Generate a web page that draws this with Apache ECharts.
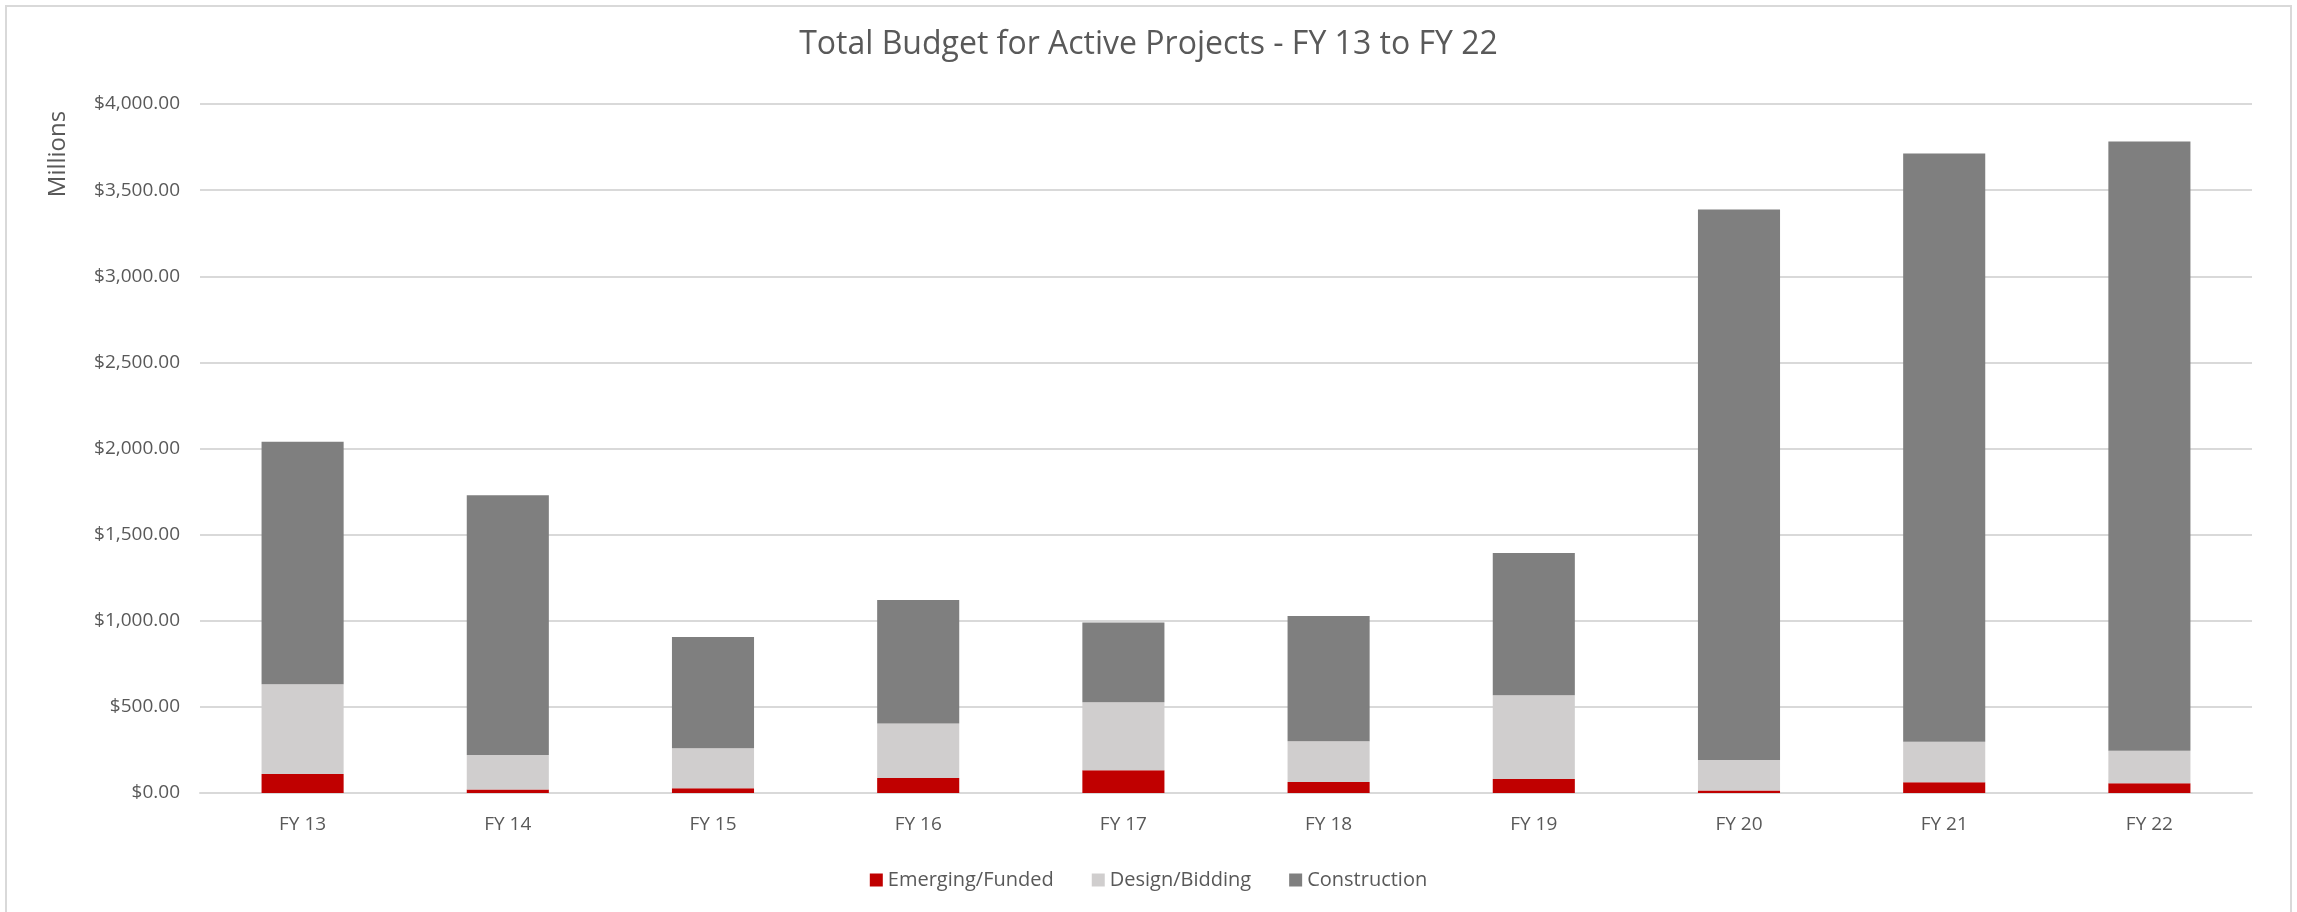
<!DOCTYPE html>
<html>
<head>
<meta charset="utf-8">
<script src="https://cdn.jsdelivr.net/npm/echarts@6/dist/echarts.min.js"></script>
<style>
    html, body { margin: 0; padding: 0; background: #fff; }
    #main { width: 2297px; height: 912px; }
</style>
</head>
<body>
<div id="main"></div>
<script>
// 类目
var years = ['FY 13', 'FY 14', 'FY 15', 'FY 16', 'FY 17', 'FY 18', 'FY 19', 'FY 20', 'FY 21', 'FY 22'];
// 各阶段预算（百万）
var emergingFunded = [110, 21, 27, 87, 132, 64, 81, 15, 62, 56];
var designBidding = [522, 200, 233, 316, 395, 236, 487, 177, 236, 190];
var construction = [1407, 1508, 645, 717, 463, 727, 825, 3196, 3415, 3537];

(function() {
    var myChart = echarts.init(document.getElementById('main'));
    var font = 'Open Sans';
    var txt = '#595959';

    function money(v) {
        return '$' + v.toLocaleString('en-US', { minimumFractionDigits: 2, maximumFractionDigits: 2 });
    }

    var option = {
        animation: false,
        color: ['#c00000', '#d0cece', '#7f7f7f'],
        title: {
            text: 'Total Budget for Active Projects - FY 13 to FY 22',
            left: 'center',
            top: 24,
            textStyle: {
                fontFamily: font,
                fontSize: 32,
                fontWeight: 'normal',
                color: txt
            }
        },
        // 外框 + 纵轴名称
        graphic: [{
            type: 'rect',
            shape: { x: 6, y: 6, width: 2285, height: 912 },
            style: { fill: 'none', stroke: '#d9d9d9', lineWidth: 2 },
            silent: true
        }, {
            type: 'text',
            x: 58,
            y: 154,
            rotation: Math.PI / 2,
            style: {
                text: 'Millions',
                fontFamily: font,
                fontSize: 24,
                fill: txt,
                textAlign: 'center',
                textVerticalAlign: 'middle'
            }
        }],
        legend: {
            bottom: 17,
            left: 'center',
            itemWidth: 13,
            itemHeight: 13,
            itemGap: 38,
            icon: 'rect',
            textStyle: {
                fontFamily: font,
                fontSize: 20,
                color: txt
            },
            data: ['Emerging/Funded', 'Design/Bidding', 'Construction']
        },
        grid: {
            left: 200,
            right: 45,
            top: 104,
            bottom: 119
        },
        xAxis: {
            type: 'category',
            data: years,
            axisTick: { show: false },
            axisLine: { lineStyle: { color: '#d9d9d9', width: 2 } },
            axisLabel: {
                margin: 22,
                fontFamily: font,
                fontSize: 19,
                color: txt
            }
        },
        yAxis: {
            type: 'value',
            min: 0,
            max: 4000,
            interval: 500,
            axisLine: { show: false },
            axisTick: { show: false },
            axisLabel: {
                margin: 20,
                fontFamily: font,
                fontSize: 19,
                color: txt,
                formatter: money
            },
            splitLine: { lineStyle: { color: '#d9d9d9', width: 2 } }
        },
        series: [{
            name: 'Emerging/Funded',
            type: 'bar',
            stack: 'total',
            barWidth: '40%',
            data: emergingFunded
        }, {
            name: 'Design/Bidding',
            type: 'bar',
            stack: 'total',
            data: designBidding
        }, {
            name: 'Construction',
            type: 'bar',
            stack: 'total',
            data: construction
        }]
    };
    myChart.setOption(option);
    window.addEventListener('resize', function() {
        myChart.resize();
    });
})();
</script>
</body>
</html>
